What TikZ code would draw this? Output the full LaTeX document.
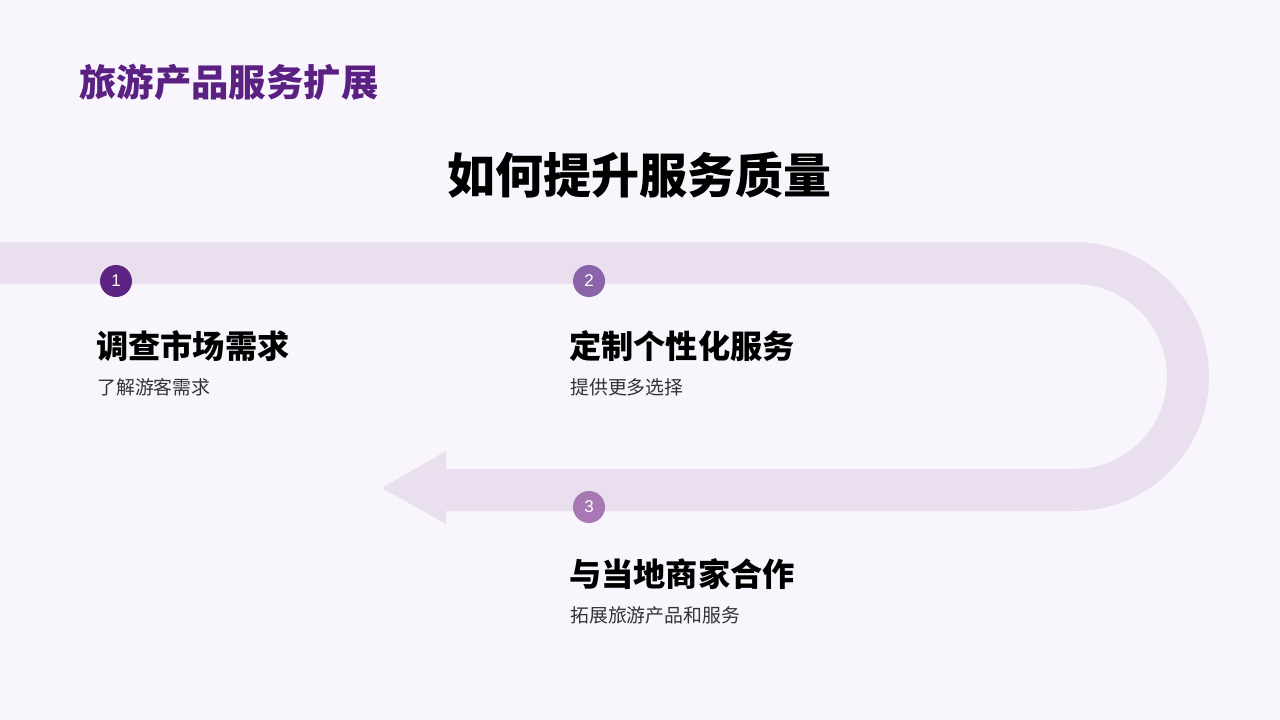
\documentclass[tikz,border=0pt]{standalone}
\usepackage{fontspec}
\setmainfont{Liberation Sans}
\newfontfamily\cjk{Noto Sans CJK SC}
\definecolor{bgc}{HTML}{F9F5FC}
\definecolor{band}{HTML}{E9DFEF}
\definecolor{ttl}{HTML}{5B2182}
\definecolor{cA}{HTML}{5E2483}
\definecolor{cB}{HTML}{8B63A9}
\definecolor{cC}{HTML}{A878B5}
\definecolor{sub}{HTML}{333333}
\begin{document}
\begin{tikzpicture}[x=1pt,y=-1pt,
  num/.style={circle,minimum size=32pt,inner sep=0pt,text=white,font=\fontsize{17}{17}\selectfont},
  head/.style={anchor=west,inner sep=0pt,font=\cjk\bfseries\fontsize{32.2}{32.2}\selectfont},
  desc/.style={anchor=west,inner sep=0pt,text=sub,font=\cjk\fontsize{18.9}{18.9}\selectfont}]
\useasboundingbox (0,0) rectangle (1280,720);
\fill[bgc] (0,0) rectangle (1280,720);
% band
\draw[band,line width=42pt] (0,263) -- (1074.5,263) arc(-90:90:113.5) -- (446,490);
\fill[band] (446,451) -- (382,488) -- (446,524) -- cycle;
% titles
\node[anchor=west,inner sep=0pt,text=ttl,font=\cjk\bfseries\fontsize{37.4}{37.4}\selectfont] (title) at (79,82) {旅游产品服务扩展};
\node[inner sep=0pt,font=\cjk\bfseries\fontsize{48}{48}\selectfont] (main) at (639,175) {如何提升服务质量};
% steps
\node[num,fill=cA] (n1) at (116,281) {1};
\node[num,fill=cB] (n2) at (589,281) {2};
\node[num,fill=cC] (n3) at (589,507) {3};
\node[head] (h1) at (96,346) {调查市场需求};
\node[desc] (d1) at (97,387) {了解游客需求};
\node[head] (h2) at (569,346) {定制个性化服务};
\node[desc] (d2) at (570,387) {提供更多选择};
\node[head] (h3) at (569,574) {与当地商家合作};
\node[desc] (d3) at (570,615) {拓展旅游产品和服务};
\end{tikzpicture}
\end{document}
